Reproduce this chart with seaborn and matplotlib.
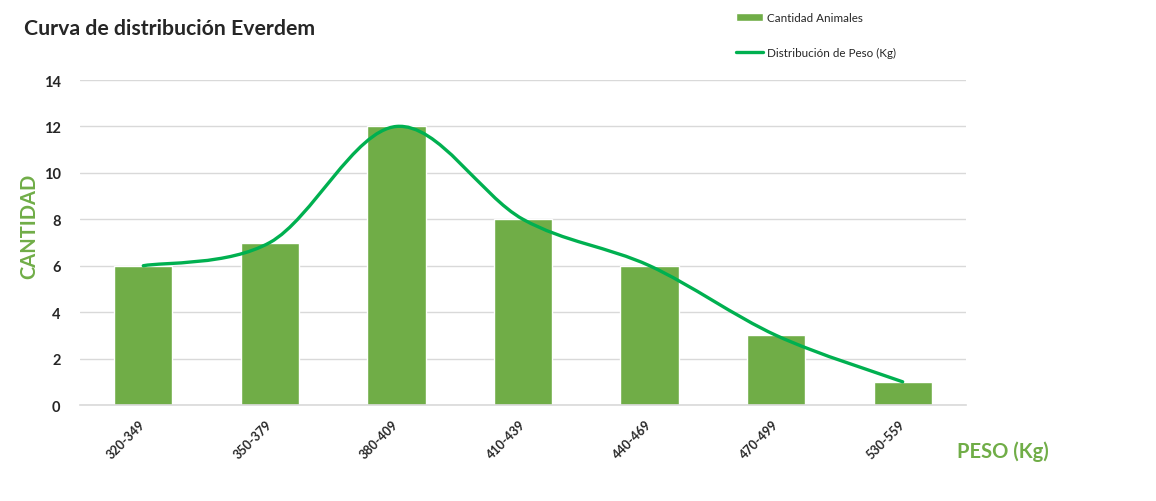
import pandas as pd
import matplotlib.pyplot as plt
import seaborn as sns
from matplotlib.path import Path
from matplotlib.patches import PathPatch, Patch
from matplotlib.lines import Line2D

# ============================
# DATOS
# ============================
rangos = ["320-349", "350-379", "380-409", "410-439", "440-469", "470-499", "530-559"]
cantidad = [6, 7, 12, 8, 6, 3, 1]

VERDE_BARRA = "#70AD47"
VERDE_LINEA = "#00B050"
GRIS = "#D9D9D9"

df = pd.DataFrame({"Rango": rangos, "Cantidad": cantidad})

sns.set_style("white")
plt.rcParams["font.family"] = ["Lato", "DejaVu Sans"]

fig = plt.figure(figsize=(11.56, 5.02), dpi=100)
ax = fig.add_axes([0.0692, 0.1912, 0.7664, 0.6474])

sns.barplot(data=df, x="Rango", y="Cantidad", color=VERDE_BARRA,
            width=0.46, saturation=1, ax=ax, zorder=2)

# curva suavizada (bezier tipo Excel) sobre los mismos datos
xs = list(range(len(cantidad)))
pts = list(zip(xs, cantidad))
verts = [pts[0]]
codes = [Path.MOVETO]
for i in range(len(pts) - 1):
    p0 = pts[i - 1] if i > 0 else pts[i]
    p1 = pts[i]
    p2 = pts[i + 1]
    p3 = pts[i + 2] if i + 2 < len(pts) else pts[i + 1]
    c1 = (p1[0] + (p2[0] - p0[0]) / 6, p1[1] + (p2[1] - p0[1]) / 6)
    c2 = (p2[0] - (p3[0] - p1[0]) / 6, p2[1] - (p3[1] - p1[1]) / 6)
    verts += [c1, c2, p2]
    codes += [Path.CURVE4] * 3
ax.add_patch(PathPatch(Path(verts, codes), facecolor="none",
                       edgecolor=VERDE_LINEA, lw=2.4, zorder=3,
                       capstyle="round"))

ax.set_xlim(-0.5, len(rangos) - 0.5)
ax.set_ylim(0, 14)
ax.set_yticks(range(0, 15, 2))
ax.yaxis.grid(True, color=GRIS, lw=1, zorder=0)
ax.set_axisbelow(True)
for s in ["top", "right", "left"]:
    ax.spines[s].set_visible(False)
ax.spines["bottom"].set_color(GRIS)
ax.spines["bottom"].set_linewidth(1.2)
ax.tick_params(length=0)
ax.tick_params(axis="y", pad=14, labelsize=10.5)
for t in ax.get_yticklabels():
    t.set_fontweight("bold")
plt.setp(ax.get_xticklabels(), rotation=45, ha="right", va="center",
         rotation_mode="anchor", fontsize=9, fontweight="bold")
ax.tick_params(axis="x", pad=12)

ax.set_xlabel("")
ax.set_ylabel("CANTIDAD", color=VERDE_BARRA, fontsize=14.5,
              fontweight="bold")
ax.yaxis.set_label_coords(-0.046, 0.554)

fig.text(0.8275, 0.1, "PESO (Kg)", color=VERDE_BARRA, fontsize=14.5,
         fontweight="bold", va="center", ha="left")
fig.text(0.021, 0.942, "Curva de distribución Everdem", fontsize=15.3,
         fontweight="bold", va="center", ha="left")

handles = [Patch(facecolor=VERDE_BARRA, label="Cantidad Animales"),
           Line2D([0], [0], color=VERDE_LINEA, lw=2.4,
                  label="Distribución de Peso (Kg)")]
fig.legend(handles=handles, loc="upper left", bbox_to_anchor=(0.628, 0.995),
           frameon=False, fontsize=8.4, labelspacing=2.05, handlelength=2.3,
           handleheight=0.6, handletextpad=0.3)

plt.savefig("out.png", dpi=100)
